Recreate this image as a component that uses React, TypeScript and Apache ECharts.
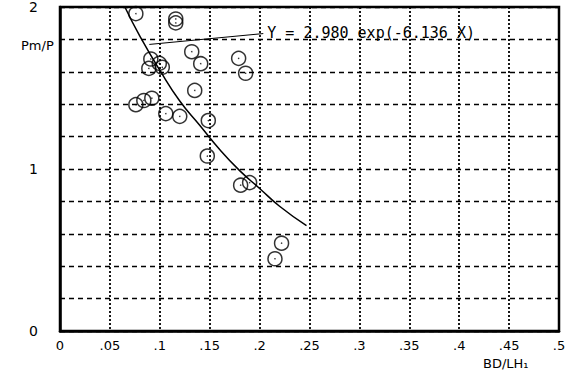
import React, { useEffect, useRef } from "react";
import * as echarts from "echarts";

const pointsX = [0.076, 0.116, 0.116, 0.132, 0.179, 0.141, 0.186, 0.091, 0.089, 0.0995, 0.1025, 0.135, 0.076, 0.084, 0.092, 0.106, 0.120, 0.1486, 0.1476, 0.181, 0.190, 0.222, 0.2154];
const pointsY = [1.959, 1.926, 1.902, 1.724, 1.683, 1.650, 1.591, 1.679, 1.621, 1.652, 1.628, 1.485, 1.397, 1.423, 1.437, 1.342, 1.325, 1.299, 1.080, 0.900, 0.916, 0.542, 0.446];

const curveX = [0.065, 0.08, 0.1, 0.12, 0.14, 0.16, 0.18, 0.2, 0.22, 0.247];
const curveY = [2.0, 1.82, 1.61, 1.42, 1.27, 1.12, 0.99, 0.88, 0.77, 0.65];

const xTicks = [0, 0.05, 0.1, 0.15, 0.2, 0.25, 0.3, 0.35, 0.4, 0.45, 0.5];
const yLabels = ["0", "1", "2"];
const equation = "Y = 2.980 exp(-6.136 X)";
const arrowFrom = [0.0895, 1.769];
const arrowTo = [0.2037, 1.836];

export default function App() {
  const ref = useRef<HTMLDivElement>(null);
  useEffect(() => {
    document.body.style.margin = "0";
    if (!ref.current) return;
    const chart = echarts.init(ref.current, null, { renderer: "svg" });
    const font = "DejaVu Sans";
    const scatter = pointsX.map((x, i) => [x, pointsY[i]]);
    chart.setOption({
      animation: false,
      backgroundColor: "#ffffff",
      grid: { left: 60, top: 5, right: 22, bottom: 46, show: true, borderColor: "#000", borderWidth: 2.5 },
      xAxis: {
        type: "value",
        min: xTicks[0],
        max: xTicks[xTicks.length - 1],
        interval: 0.05,
        axisLine: { show: true, lineStyle: { color: "#000", width: 2.5 } },
        axisTick: { show: false },
        axisLabel: {
          color: "#000",
          fontFamily: font,
          fontSize: 13,
          margin: 8,
          formatter: (v: number) => (Math.abs(v) < 1e-9 ? "0" : String(+v.toFixed(2)).replace(/^0\./, ".")),
        },
        splitLine: { show: true, lineStyle: { color: "#000", type: [2, 2], width: 1.8 } },
      },
      yAxis: {
        type: "value",
        min: 0,
        max: 2,
        interval: 0.2,
        axisLine: { show: true, lineStyle: { color: "#000", width: 2.5 } },
        axisTick: { show: false },
        axisLabel: {
          color: "#000",
          fontFamily: font,
          fontSize: 14,
          margin: 22,
          formatter: (v: number) => {
            const r = Math.round(v);
            return Math.abs(v - r) < 1e-6 && yLabels.includes(String(r)) ? String(r) : "";
          },
        },
        splitLine: { show: true, lineStyle: { color: "#000", type: [5, 4], width: 1.4 } },
      },
      graphic: [
        { type: "text", left: 21, top: 39, style: { text: "Pm/P", font: `13px ${font}`, fill: "#000" } },
        { type: "text", left: 483, top: 357, style: { text: "BD/LH₁", font: `13px ${font}`, fill: "#000" } },
      ],
      series: [
        {
          type: "line",
          data: curveX.map((x, i) => [x, curveY[i]]),
          smooth: true,
          showSymbol: false,
          symbol: "none",
          lineStyle: { color: "#000", width: 1.5 },
          silent: true,
          markLine: {
            silent: true,
            symbol: ["none", "none"],
            lineStyle: { color: "#000", width: 1, type: "solid" },
            label: {
              show: true,
              position: "end",
              distance: 4,
              formatter: equation,
              color: "#000",
              fontFamily: "DejaVu Sans Mono",
              fontSize: 15,
            },
            data: [[{ coord: arrowFrom }, { coord: arrowTo }]],
          },
        },
        {
          type: "scatter",
          data: scatter,
          symbol: "circle",
          symbolSize: 14,
          itemStyle: { color: "rgba(255,255,255,0)", borderColor: "#000", borderWidth: 1.5 },
        },
        {
          type: "scatter",
          data: scatter,
          symbol: "circle",
          symbolSize: 1.5,
          itemStyle: { color: "#000" },
        },
      ],
    });
    return () => chart.dispose();
  }, []);
  return <div ref={ref} style={{ width: 581, height: 377 }} />;
}
